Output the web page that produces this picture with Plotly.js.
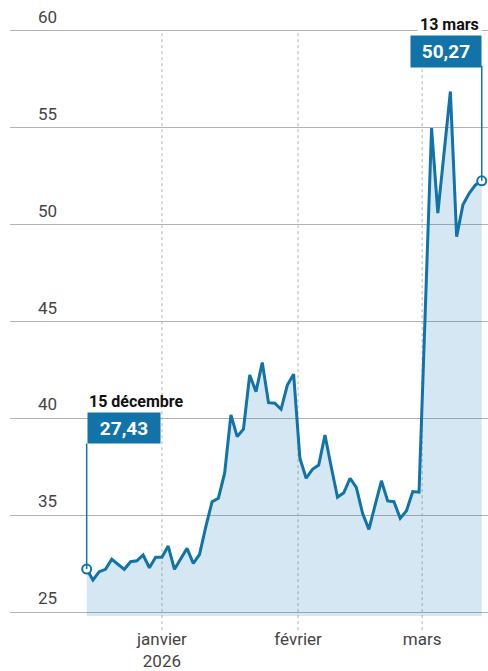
<!DOCTYPE html>
<html><head><meta charset="utf-8">
<script src="https://cdn.plot.ly/plotly-3.0.1.min.js"></script>
<style>html,body{margin:0;padding:0;background:#fff}#chart{width:488px;height:671px}</style>
</head><body><div id="chart"></div>
<script>
// Trading days (weekdays, Christmas excluded)
const dates = [
 '2025-12-15','2025-12-16','2025-12-17','2025-12-18','2025-12-19','2025-12-22','2025-12-23','2025-12-24','2025-12-26','2025-12-29','2025-12-30','2025-12-31',
 '2026-01-01','2026-01-02','2026-01-05','2026-01-06','2026-01-07','2026-01-08','2026-01-09','2026-01-12','2026-01-13','2026-01-14','2026-01-15','2026-01-16',
 '2026-01-19','2026-01-20','2026-01-21','2026-01-22','2026-01-23','2026-01-26','2026-01-27','2026-01-28','2026-01-29','2026-01-30',
 '2026-02-02','2026-02-03','2026-02-04','2026-02-05','2026-02-06','2026-02-09','2026-02-10','2026-02-11','2026-02-12','2026-02-13',
 '2026-02-16','2026-02-17','2026-02-18','2026-02-19','2026-02-20','2026-02-23','2026-02-24','2026-02-25','2026-02-26','2026-02-27',
 '2026-03-02','2026-03-03','2026-03-04','2026-03-05','2026-03-06','2026-03-09','2026-03-10','2026-03-11','2026-03-12','2026-03-13'
];
// Values as drawn against the chart's gridlines
const values = [
 32.22,31.66,32.09,32.21,32.73,32.48,32.21,32.60,32.65,32.95,
 32.29,32.83,32.83,33.41,32.21,32.75,33.29,32.52,32.98,34.41,
 35.70,35.88,37.17,40.18,39.06,39.44,42.24,41.38,42.88,40.81,
 40.78,40.47,41.72,42.28,37.94,36.91,37.37,37.59,39.14,37.49,
 35.93,36.16,36.91,36.44,35.10,34.27,35.53,36.78,35.74,35.70,
 34.84,35.23,36.22,36.19,45.60,54.98,50.59,53.75,56.87,49.38,
 51.02,51.62,52.05,52.26
];
const yTickVals = [30,35,40,45,50,55,60];
const yTickText = ['25','35','40','45','50','55','60'];
const xTickVals = ['2026-01-01','2026-01-30 17:00','2026-02-27 12:00'];
const xTickText = ['janvier<br>2026','février','mars'];
const startLabel = '15 décembre', startValueText = '27,43';
const endLabel = '13 mars', endValueText = '50,27';

const BLUE = '#1173a8';
const GRID = '#b3b3b3';
const FONT = 'Roboto, "Liberation Sans", sans-serif';
const first = dates[0], last = dates[dates.length-1];
const v0 = values[0], vN = values[values.length-1];

const traces = [
 {x: dates, y: values, type:'scatter', mode:'lines', fill:'tozeroy',
  fillcolor:'rgba(0,112,175,0.17)', line:{color:BLUE, width:3}, hoverinfo:'skip'},
 {x:[first,last], y:[v0,vN], type:'scatter', mode:'markers',
  marker:{symbol:'circle', size:9, color:'#fff', line:{color:BLUE, width:2}}, hoverinfo:'skip', cliponaxis:false}
];

const shapes = xTickVals.map(v => ({type:'line', xref:'x', yref:'paper', x0:v, x1:v, y0:-0.024, y1:0.9934,
  line:{color:GRID, width:1, dash:'dot'}, layer:'below'}));
shapes.push({type:'line', xref:'x', yref:'y', x0:first, x1:first, y0:38.7, y1:v0, line:{color:BLUE, width:1.5}});
shapes.push({type:'line', xref:'x', yref:'y', x0:last, x1:last, y0:58.2, y1:vN, line:{color:BLUE, width:1.5}});

const annotations = yTickVals.map((v,i) => ({xref:'paper', yref:'y', x:0.054, y:v, xanchor:'left', yanchor:'middle',
  yshift:14, showarrow:false, text:yTickText[i], font:{family:FONT, size:17, color:'#444'}}));
annotations.push(
 {xref:'x', yref:'y', x:first, y:40.85, xanchor:'left', yanchor:'middle', showarrow:false,
  text:'<b>'+startLabel+'</b>', font:{family:FONT, size:16, color:'#111'}},
 {xref:'x', yref:'y', x:first, y:39.5, xanchor:'left', yanchor:'middle', showarrow:false,
  text:'<b>'+startValueText+'</b>', font:{family:FONT, size:19, color:'#fff'},
  bgcolor:BLUE, width:72, height:30, borderpad:0},
 {xref:'x', yref:'paper', x:last, y:1.0036, xanchor:'right', yanchor:'middle', showarrow:false,
  text:'<b>'+endLabel+'</b>', font:{family:FONT, size:16, color:'#111'}, bgcolor:'#fff', borderpad:2},
 {xref:'x', yref:'y', x:last, y:58.95, xanchor:'right', yanchor:'middle', showarrow:false,
  text:'<b>'+endValueText+'</b>', font:{family:FONT, size:19, color:'#fff'},
  bgcolor:BLUE, width:70, height:31, borderpad:0}
);

const layout = {
 width:488, height:671,
 margin:{l:10, r:0, t:27, b:55},
 paper_bgcolor:'#fff', plot_bgcolor:'#fff',
 showlegend:false,
 font:{family:FONT, size:17, color:'#444'},
 xaxis:{type:'date', range:['2025-11-26 18:30','2026-03-13 23:59'],
  rangebreaks:[{bounds:['sat','mon']},{values:['2025-12-25']}],
  tickmode:'array', tickvals:xTickVals, ticktext:xTickText,
  showgrid:false, zeroline:false, showline:false, ticks:'', ticklabelstandoff:11,
  tickfont:{family:FONT, size:17, color:'#444'}, fixedrange:true},
 yaxis:{range:[29.8,60.2], tickmode:'array', tickvals:yTickVals,
  showgrid:true, gridcolor:GRID, gridwidth:1, zeroline:false, showline:false, ticks:'',
  showticklabels:false, fixedrange:true},
 shapes: shapes, annotations: annotations
};
Plotly.newPlot('chart', traces, layout, {displayModeBar:false, staticPlot:true});
</script></body></html>
